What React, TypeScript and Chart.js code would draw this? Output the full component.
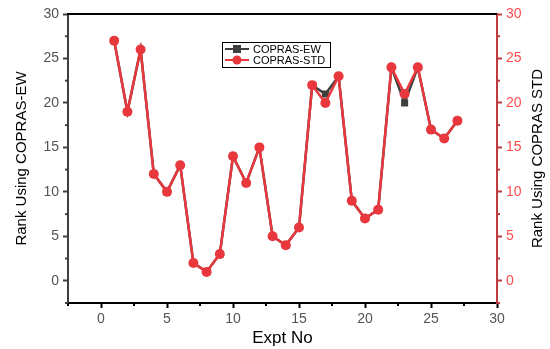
import React, { useEffect, useRef } from 'react';
import { Chart, registerables } from 'chart.js';

Chart.register(...registerables);

const exptNo = [1, 2, 3, 4, 5, 6, 7, 8, 9, 10, 11, 12, 13, 14, 15, 16, 17, 18, 19, 20, 21, 22, 23, 24, 25, 26, 27];
const rankEW = [27, 19, 26, 12, 10, 13, 2, 1, 3, 14, 11, 15, 5, 4, 6, 22, 21, 23, 9, 7, 8, 24, 20, 24, 17, 16, 18];
const rankSTD = [27, 19, 26, 12, 10, 13, 2, 1, 3, 14, 11, 15, 5, 4, 6, 22, 20, 23, 9, 7, 8, 24, 21, 24, 17, 16, 18];
const xTicks = [0, 5, 10, 15, 20, 25, 30];
const yTicks = [0, 5, 10, 15, 20, 25, 30];
const minorTicks = [-2.5, 2.5, 7.5, 12.5, 17.5, 22.5, 27.5];
const rightTitle = 'Rank Using COPRAS STD';

const GRAY = '#3f3f3f';
const RED = '#e8383d';
const RED_AXIS = '#c0393c';
const RED_LABEL = '#ff4d4f';
const FONT = "'Liberation Sans', Arial, sans-serif";

const decorPlugin = {
  id: 'decor',
  afterDraw(chart: any) {
    const ctx = chart.ctx;
    const { left, right, top, bottom } = chart.chartArea;
    const xs = chart.scales.x;
    const yl = chart.scales.y;
    const yr = chart.scales.y2;
    ctx.save();
    // top border
    ctx.strokeStyle = '#000';
    ctx.lineWidth = 2;
    ctx.beginPath();
    ctx.moveTo(left - 1, top);
    ctx.lineTo(right, top);
    ctx.stroke();
    // minor ticks
    ctx.lineWidth = 2;
    minorTicks.forEach((v) => {
      const px = xs.getPixelForValue(v);
      ctx.strokeStyle = '#000';
      ctx.beginPath();
      ctx.moveTo(px, bottom);
      ctx.lineTo(px, bottom + 3);
      ctx.stroke();
      const pyl = yl.getPixelForValue(v);
      ctx.strokeStyle = GRAY;
      ctx.beginPath();
      ctx.moveTo(left, pyl);
      ctx.lineTo(left - 3, pyl);
      ctx.stroke();
      const pyr = yr.getPixelForValue(v);
      ctx.strokeStyle = RED_AXIS;
      ctx.beginPath();
      ctx.moveTo(right, pyr);
      ctx.lineTo(right + 3, pyr);
      ctx.stroke();
    });
    // right axis title (reads bottom to top)
    ctx.save();
    ctx.translate(538, (top + bottom) / 2);
    ctx.rotate(-Math.PI / 2);
    ctx.fillStyle = '#000';
    ctx.font = `15px ${FONT}`;
    ctx.textAlign = 'center';
    ctx.textBaseline = 'middle';
    ctx.fillText(rightTitle, 0, 0);
    ctx.restore();
    // legend box
    const bx = 222, by = 42, bw = 108, bh = 25;
    ctx.fillStyle = '#fff';
    ctx.fillRect(bx, by, bw, bh);
    ctx.strokeStyle = '#000';
    ctx.lineWidth = 1;
    ctx.strokeRect(bx + 0.5, by + 0.5, bw, bh);
    const items = [chart.data.datasets[1], chart.data.datasets[0]];
    items.forEach((ds: any, i: number) => {
      const cy = by + 7 + i * 11;
      ctx.strokeStyle = ds.borderColor;
      ctx.lineWidth = 2;
      ctx.beginPath();
      ctx.moveTo(bx + 3, cy);
      ctx.lineTo(bx + 27, cy);
      ctx.stroke();
      ctx.fillStyle = ds.backgroundColor;
      if (ds.pointStyle === 'rect') {
        ctx.fillRect(bx + 15 - 4, cy - 4, 8, 8);
      } else {
        ctx.beginPath();
        ctx.arc(bx + 15, cy, 4.5, 0, Math.PI * 2);
        ctx.fill();
      }
      ctx.fillStyle = '#000';
      ctx.font = `11px ${FONT}`;
      ctx.textBaseline = 'middle';
      ctx.textAlign = 'left';
      ctx.fillText(ds.label, bx + 31, cy + 0.5);
    });
    ctx.restore();
  },
};

export default function App() {
  const ref = useRef<HTMLCanvasElement>(null);
  useEffect(() => {
    if (!ref.current) return;
    const chart = new Chart(ref.current, {
      type: 'line',
      data: {
        datasets: [
          {
            label: 'COPRAS-STD',
            data: exptNo.map((x, i) => ({ x, y: rankSTD[i] })),
            borderColor: RED,
            backgroundColor: RED,
            borderWidth: 2.5,
            pointStyle: 'circle',
            pointRadius: 5,
            pointBorderWidth: 0,
            yAxisID: 'y2',
            order: 0,
          },
          {
            label: 'COPRAS-EW',
            data: exptNo.map((x, i) => ({ x, y: rankEW[i] })),
            borderColor: GRAY,
            backgroundColor: GRAY,
            borderWidth: 2.5,
            pointStyle: 'rect',
            pointRadius: 5,
            pointBorderWidth: 0,
            yAxisID: 'y',
            order: 1,
          },
        ],
      },
      options: {
        animation: false,
        responsive: true,
        maintainAspectRatio: false,
        layout: { padding: { top: 14, left: 0, right: 0, bottom: 0 } },
        plugins: { legend: { display: false }, tooltip: { enabled: false } },
        scales: {
          x: {
            type: 'linear',
            min: -2.5,
            max: 30,
            afterBuildTicks: (s: any) => { s.ticks = xTicks.map((v) => ({ value: v })); },
            afterFit: (s: any) => { s.height = 46; },
            grid: { drawOnChartArea: false, drawTicks: true, tickLength: 5, tickWidth: 2, color: '#000' },
            border: { display: true, color: '#000', width: 2 },
            ticks: { color: '#555', font: { family: FONT, size: 14 }, padding: 3, maxRotation: 0 },
            title: { display: true, text: 'Expt No', color: '#000', font: { family: FONT, size: 17 }, padding: { top: 0, bottom: 0 } },
          },
          y: {
            type: 'linear',
            position: 'left',
            min: -2.5,
            max: 30,
            afterBuildTicks: (s: any) => { s.ticks = yTicks.map((v) => ({ value: v })); },
            afterFit: (s: any) => { s.width = 68; },
            grid: { drawOnChartArea: false, drawTicks: true, tickLength: 5, tickWidth: 2, color: GRAY },
            border: { display: true, color: GRAY, width: 2 },
            ticks: { color: '#555', font: { family: FONT, size: 14 }, padding: 4 },
            title: { display: true, text: 'Rank Using COPRAS-EW', color: '#000', font: { family: FONT, size: 15 }, padding: { top: 13, bottom: 0 } },
          },
          y2: {
            type: 'linear',
            position: 'right',
            min: -2.5,
            max: 30,
            afterBuildTicks: (s: any) => { s.ticks = yTicks.map((v) => ({ value: v })); },
            afterFit: (s: any) => { s.width = 53; },
            grid: { drawOnChartArea: false, drawTicks: true, tickLength: 5, tickWidth: 2, color: RED_AXIS },
            border: { display: true, color: RED_AXIS, width: 2 },
            ticks: { color: RED_LABEL, font: { family: FONT, size: 14 }, padding: 4 },
            title: { display: false },
          },
        },
      },
      plugins: [decorPlugin],
    });
    return () => chart.destroy();
  }, []);
  return (
    <div style={{ position: 'fixed', left: 0, top: 0, width: 550, height: 349 }}>
      <canvas ref={ref} />
    </div>
  );
}
